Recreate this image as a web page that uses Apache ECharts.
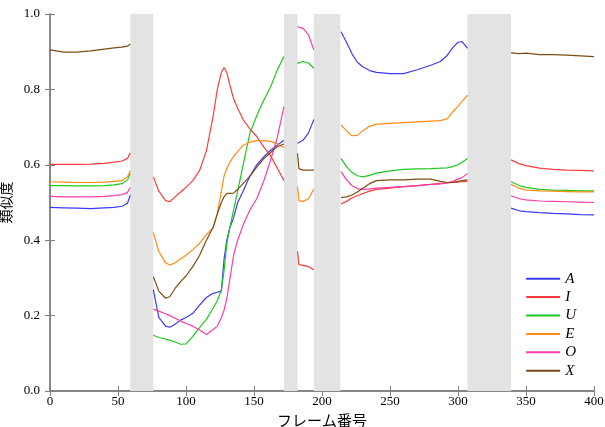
<!DOCTYPE html>
<html>
<head>
<meta charset="utf-8">
<script src="https://cdn.jsdelivr.net/npm/echarts@6/dist/echarts.min.js"></script>
<style>
  html, body { margin: 0; padding: 0; background: #fff; }
  #chart { width: 605px; height: 427px; }
</style>
</head>
<body>
<div id="chart"></div>
<script>
// frame numbers; null values fall inside the grey (excluded) bands
const frames = [0, 10, 20, 30, 40, 47, 53, 57, 59, 66,
  76, 80, 85, 88, 92, 96, 100, 105, 110, 115, 120, 123, 126, 128, 130, 132, 135, 138, 142, 147, 152, 157, 162, 167, 172, 177,
  182, 183, 186, 190, 194, 204,
  214, 218, 222, 226, 230, 235, 240, 250, 260, 270, 280, 287, 292, 296, 300, 303, 307, 323,
  339, 345, 350, 360, 370, 380, 390, 400];

const valA = [0.487, 0.486, 0.485, 0.484, 0.486, 0.487, 0.490, 0.498, 0.520, null,
  0.268, 0.195, 0.172, 0.169, 0.177, 0.188, 0.195, 0.206, 0.228, 0.248, 0.259, 0.262, 0.265, 0.35, 0.40, 0.43, 0.46, 0.50, 0.53, 0.57, 0.60, 0.62, 0.638, 0.652, 0.665, null,
  0.657, 0.657, 0.665, 0.684, 0.72, null,
  0.953, 0.925, 0.895, 0.872, 0.86, 0.85, 0.845, 0.842, 0.842, 0.852, 0.864, 0.874, 0.89, 0.91, 0.925, 0.927, 0.909, null,
  0.485, 0.478, 0.476, 0.473, 0.471, 0.47, 0.468, 0.467];

const valI = [0.601, 0.601, 0.601, 0.602, 0.604, 0.607, 0.610, 0.617, 0.632, null,
  0.568, 0.53, 0.505, 0.502, 0.515, 0.528, 0.54, 0.558, 0.585, 0.637, 0.73, 0.80, 0.845, 0.858, 0.845, 0.815, 0.775, 0.75, 0.72, 0.695, 0.675, 0.648, 0.625, 0.592, 0.558, null,
  0.37, 0.335, 0.333, 0.33, 0.321, null,
  0.496, 0.503, 0.512, 0.518, 0.524, 0.53, 0.535, 0.538, 0.542, 0.545, 0.548, 0.551, 0.552, 0.553, 0.554, 0.555, 0.556, null,
  0.613, 0.603, 0.598, 0.591, 0.588, 0.586, 0.585, 0.584];

const valU = [0.545, 0.545, 0.544, 0.544, 0.545, 0.547, 0.550, 0.560, 0.577, null,
  0.148, 0.142, 0.138, 0.135, 0.13, 0.124, 0.125, 0.145, 0.168, 0.19, 0.22, 0.24, 0.268, 0.32, 0.39, 0.43, 0.48, 0.53, 0.60, 0.684, 0.73, 0.77, 0.805, 0.85, 0.887, null,
  0.869, 0.872, 0.874, 0.87, 0.856, null,
  0.617, 0.595, 0.58, 0.571, 0.568, 0.572, 0.578, 0.584, 0.588, 0.589, 0.59, 0.591, 0.592, 0.595, 0.6, 0.607, 0.617, null,
  0.555, 0.545, 0.54, 0.535, 0.533, 0.532, 0.531, 0.531];

const valE = [0.555, 0.554, 0.553, 0.553, 0.554, 0.556, 0.558, 0.568, 0.584, null,
  0.42, 0.37, 0.34, 0.334, 0.34, 0.35, 0.36, 0.375, 0.392, 0.415, 0.432, 0.47, 0.53, 0.57, 0.59, 0.605, 0.622, 0.635, 0.652, 0.66, 0.664, 0.664, 0.662, 0.656, 0.645, null,
  0.542, 0.505, 0.503, 0.51, 0.535, null,
  0.706, 0.69, 0.677, 0.678, 0.69, 0.702, 0.708, 0.71, 0.712, 0.714, 0.716, 0.717, 0.722, 0.74, 0.755, 0.768, 0.785, null,
  0.548, 0.538, 0.533, 0.531, 0.53, 0.529, 0.528, 0.528];

const valO = [0.516, 0.515, 0.515, 0.515, 0.516, 0.518, 0.521, 0.527, 0.540, null,
  0.217, 0.212, 0.205, 0.2, 0.193, 0.186, 0.179, 0.172, 0.162, 0.15, 0.163, 0.172, 0.195, 0.215, 0.245, 0.29, 0.36, 0.40, 0.44, 0.48, 0.51, 0.555, 0.61, 0.67, 0.754, null,
  0.966, 0.966, 0.962, 0.945, 0.905, null,
  0.582, 0.56, 0.545, 0.537, 0.535, 0.536, 0.538, 0.54, 0.542, 0.545, 0.548, 0.549, 0.552, 0.556, 0.562, 0.566, 0.577, null,
  0.518, 0.51, 0.507, 0.504, 0.503, 0.502, 0.501, 0.5];

const valX = [0.905, 0.899, 0.899, 0.902, 0.907, 0.910, 0.912, 0.915, 0.920, null,
  0.303, 0.265, 0.246, 0.25, 0.272, 0.29, 0.305, 0.33, 0.36, 0.40, 0.435, 0.47, 0.50, 0.515, 0.524, 0.524, 0.525, 0.535, 0.55, 0.57, 0.594, 0.615, 0.632, 0.648, 0.655, null,
  0.63, 0.59, 0.586, 0.586, 0.586, null,
  0.513, 0.515, 0.52, 0.528, 0.538, 0.55, 0.558, 0.56, 0.56, 0.562, 0.562, 0.556, 0.553, 0.553, 0.556, 0.558, 0.56, null,
  0.897, 0.895, 0.896, 0.892, 0.892, 0.891, 0.889, 0.887];

const names = ['A', 'I', 'U', 'E', 'O', 'X'];
const colors = ['#3b3bff', '#ff3c3c', '#1ec81e', '#ff8c14', '#ff3caa', '#7d4c14'];
const values = [valA, valI, valU, valE, valO, valX];

// excluded frame ranges (grey bands)
const bands = [[59, 76], [172, 182], [194, 213.5], [307, 339]];

const serif = 'Liberation Serif';
const jp = 'Noto Sans CJK JP';

const series = names.map((n, i) => ({
  name: n,
  type: 'line',
  showSymbol: false,
  connectNulls: false,
  color: colors[i],
  lineStyle: { width: 1.2 },
  z: 3,
  data: frames.map((f, k) => [f, values[i][k]])
}));
series[0].markArea = {
  silent: true,
  itemStyle: { color: '#e3e3e3' },
  data: bands.map(b => [{ xAxis: b[0] }, { xAxis: b[1] }])
};

const axisLine = { show: true, lineStyle: { color: '#808080', width: 1.5 } };
const tick = { show: true, inside: true, length: 5, lineStyle: { color: '#808080' } };

echarts.init(document.getElementById('chart')).setOption({
  animation: false,
  grid: { left: 50, right: 11, top: 14, bottom: 36, outerBoundsMode: 'none' },
  legend: {
    orient: 'vertical',
    right: 24,
    top: 266,
    icon: 'rect',
    itemWidth: 34,
    itemHeight: 2,
    itemGap: 3,
    data: names,
    textStyle: { fontFamily: serif, fontStyle: 'italic', fontSize: 15, lineHeight: 15.4, color: '#000' }
  },
  xAxis: [{
    type: 'value', min: 0, max: 400, interval: 50,
    name: 'フレーム番号', nameLocation: 'middle', nameGap: 19,
    nameTextStyle: { fontFamily: jp, fontSize: 15, color: '#000' },
    axisLine: axisLine, axisTick: tick, splitLine: { show: false },
    axisLabel: { fontFamily: serif, fontSize: 13, color: '#000', margin: 4 }
  }, {
    type: 'value', min: 0, max: 400, interval: 50, position: 'top',
    axisLine: axisLine, axisTick: tick, splitLine: { show: false },
    axisLabel: { show: false }
  }],
  yAxis: [{
    type: 'value', min: 0, max: 1, interval: 0.2,
    name: '類似度', nameLocation: 'middle', nameGap: 31,
    nameTextStyle: { fontFamily: jp, fontSize: 14, color: '#000' },
    axisLine: axisLine, axisTick: tick, splitLine: { show: false },
    axisLabel: { fontFamily: serif, fontSize: 13, color: '#000', margin: 10,
      formatter: v => v.toFixed(1) }
  }, {
    type: 'value', min: 0, max: 1, interval: 0.2, position: 'right',
    axisLine: axisLine, axisTick: tick, splitLine: { show: false },
    axisLabel: { show: false }
  }],
  series: series
});
</script>
</body>
</html>
